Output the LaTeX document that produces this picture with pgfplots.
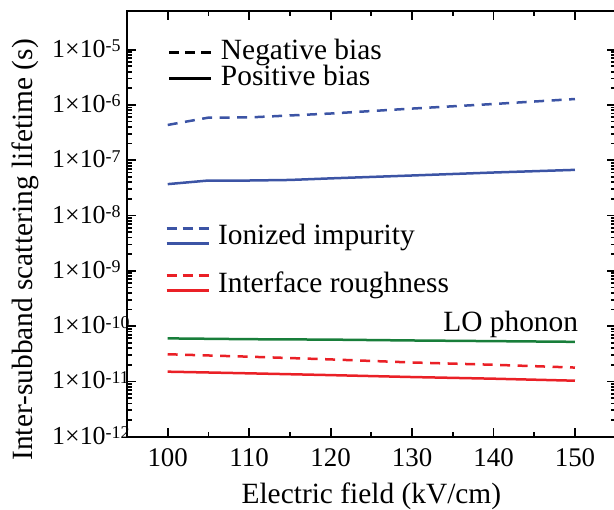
\documentclass[border=0pt]{standalone}
\usepackage{fontspec}
\setmainfont{Liberation Serif}
\usepackage{pgfplots}
\pgfplotsset{compat=1.18}
\definecolor{cblue}{RGB}{60,84,165}
\definecolor{cred}{RGB}{234,32,38}
\definecolor{cgreen}{RGB}{24,126,58}
\newcommand{\ex}[1]{1×10\raisebox{5.5bp}{\fontsize{18}{18}\selectfont -#1}}
\pgfplotstableread{
x y
100 4.35e-7
105 5.9e-7
110 5.95e-7
120 7.0e-7
130 8.6e-7
140 1.04e-6
150 1.28e-6
}\ionneg
\pgfplotstableread{
x y
100 3.7e-8
105 4.3e-8
110 4.3e-8
115 4.4e-8
120 4.7e-8
130 5.3e-8
140 6.0e-8
150 6.7e-8
}\ionpos
\pgfplotstableread{
x y
100 6.0e-11
105 5.9e-11
110 5.8e-11
120 5.7e-11
130 5.5e-11
140 5.35e-11
150 5.2e-11
}\lo
\pgfplotstableread{
x y
100 3.1e-11
110 2.8e-11
120 2.5e-11
130 2.2e-11
140 2.0e-11
150 1.78e-11
}\irneg
\pgfplotstableread{
x y
100 1.5e-11
105 1.45e-11
110 1.4e-11
120 1.3e-11
130 1.2e-11
140 1.12e-11
150 1.03e-11
}\irpos
\begin{document}
\begin{tikzpicture}
\begin{axis}[name=main,
  scale only axis, width=488.7bp, height=425.7bp,
  xmin=95, xmax=155, ymode=log, ymin=1e-12, ymax=5e-5,
  xtick={100,110,...,150}, minor x tick num=1,
  ytickten={-12,...,-5},
  yticklabels={\ex{12},\ex{11},\ex{10},\ex{9},\ex{8},\ex{7},\ex{6},\ex{5}},
  tick align=inside,
  major tick length=9bp, minor tick length=5bp,
  every tick/.style={black, line width=1.8bp},
  axis line style={line width=2.4bp},
  /pgf/number format/assume math mode=true,
  xticklabel style={font=\fontsize{27}{30}\selectfont, anchor=base, yshift=-30bp},
  yticklabel style={font=\fontsize{26}{30}\selectfont, anchor=base west, inner sep=0pt, xshift=-75bp, yshift=-7.5bp},
  xlabel={Electric field (kV/cm)},
  ylabel={Inter-subband scattering lifetime (s)},
  label style={font=\fontsize{29.5}{32}\selectfont},
  xlabel style={at={(axis description cs:0.5,0)}, anchor=base, yshift=-66.6bp},
  ylabel style={at={(axis description cs:-0.2087,0.439)}, anchor=center},
  legend style={draw=none, fill=none, at={(axis description cs:0.0839,0.932)}, anchor=north west,
    font=\fontsize{29.5}{32}\selectfont, inner sep=0pt, outer sep=0pt, column sep=8bp, row sep=0pt,
    nodes={inner sep=0pt, text height=20bp, text depth=6bp}},
  legend cell align=left,
  legend image code/.code={\draw[line width=3bp] (0bp,0bp) -- (42bp,0bp);},
]
\addlegendimage{black, dash pattern=on 10bp off 6bp}
\addlegendentry{Negative bias}
\addlegendimage{black}
\addlegendentry{Positive bias}
\addplot[cblue, line width=2.5bp, dash pattern=on 10bp off 7.5bp, forget plot] table[x=x,y=y] {\ionneg};
\addplot[cblue, line width=2.5bp, forget plot] table[x=x,y=y] {\ionpos};
\addplot[cgreen, line width=2.5bp, forget plot] table[x=x,y=y] {\lo};
\addplot[cred, line width=2.5bp, dash pattern=on 10bp off 7.5bp, forget plot] table[x=x,y=y] {\irneg};
\addplot[cred, line width=2.5bp, forget plot] table[x=x,y=y] {\irpos};
\node[anchor=base east, inner sep=0pt, font=\fontsize{29.5}{32}\selectfont] at (axis cs:150.4,7.9e-11) {LO phonon};
\end{axis}
\begin{axis}[
  scale only axis, width=488.7bp, height=425.7bp,
  xmin=95, xmax=155, ymin=1e-12, ymax=5e-5, ymode=log, hide axis,
  legend style={draw=none, fill=none, at={(axis description cs:0.0778,0.5025)}, anchor=north west,
    font=\fontsize{29.5}{32}\selectfont, inner sep=0pt, outer sep=0pt, column sep=8bp, row sep=21.5bp,
    nodes={inner sep=0pt, text height=22bp, text depth=4bp}},
  legend cell align=left,
]
\addlegendimage{legend image code/.code={
  \draw[cblue, line width=3bp, dash pattern=on 10bp off 6bp] (0bp,7.5bp) -- (42bp,7.5bp);
  \draw[cblue, line width=3bp] (0bp,-7.5bp) -- (42bp,-7.5bp);}}
\addlegendentry{Ionized impurity}
\addlegendimage{legend image code/.code={
  \draw[cred, line width=3bp, dash pattern=on 10bp off 6bp] (0bp,7.5bp) -- (42bp,7.5bp);
  \draw[cred, line width=3bp] (0bp,-7.5bp) -- (42bp,-7.5bp);}}
\addlegendentry{Interface roughness}
\end{axis}
\pgfresetboundingbox
\path[use as bounding box] ([shift={(-127bp,-73.3bp)}]main.south west) rectangle ++(614bp,510bp);
\end{tikzpicture}
\end{document}
